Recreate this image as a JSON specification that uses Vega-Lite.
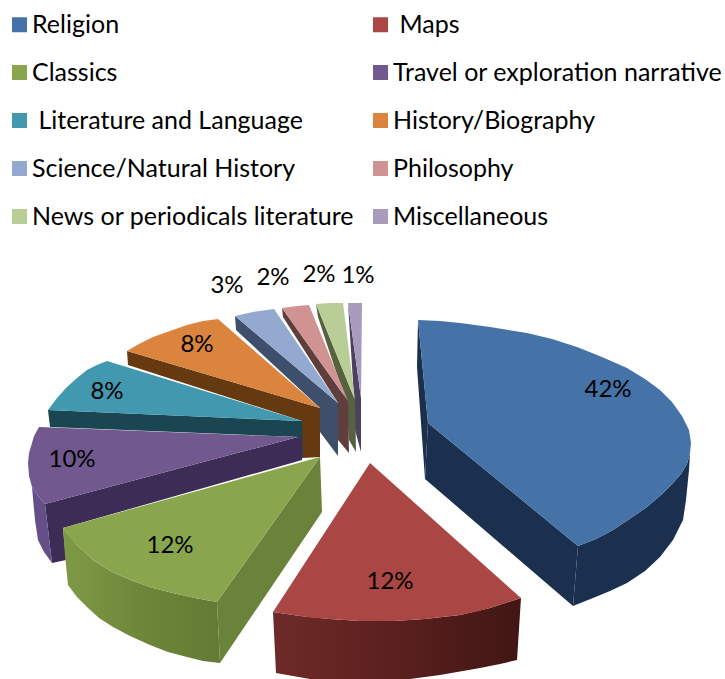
{"$schema":"https://vega.github.io/schema/vega-lite/v6.json","width":725,"height":679,"padding":0,"autosize":{"type":"none"},"background":"white","config":{"view":{"stroke":null}},
"datasets":{"shares":[
{"category":"Religion","share":0.42,"x":608,"y":390},
{"category":"Maps","share":0.12,"x":390,"y":582},
{"category":"Classics","share":0.12,"x":170,"y":546},
{"category":"Travel or exploration narrative","share":0.10,"x":72,"y":460},
{"category":"Literature and Language","share":0.08,"x":107,"y":392},
{"category":"History/Biography","share":0.08,"x":197,"y":345},
{"category":"Science/Natural History","share":0.03,"x":227,"y":286},
{"category":"Philosophy","share":0.02,"x":273,"y":278},
{"category":"News or periodicals literature","share":0.02,"x":319,"y":275},
{"category":"Miscellaneous","share":0.01,"x":358,"y":276}],
"tops":[
{"slice":"Religion","i":0,"x":418,"y":320},{"slice":"Religion","i":1,"x":440,"y":321},{"slice":"Religion","i":2,"x":460,"y":323},{"slice":"Religion","i":3,"x":490,"y":327},{"slice":"Religion","i":4,"x":527,"y":333},{"slice":"Religion","i":5,"x":552,"y":339},{"slice":"Religion","i":6,"x":577,"y":347},{"slice":"Religion","i":7,"x":602,"y":357},{"slice":"Religion","i":8,"x":627,"y":368},{"slice":"Religion","i":9,"x":645,"y":379},{"slice":"Religion","i":10,"x":660,"y":390},{"slice":"Religion","i":11,"x":672,"y":402},{"slice":"Religion","i":12,"x":682,"y":416},{"slice":"Religion","i":13,"x":689,"y":430},{"slice":"Religion","i":14,"x":691,"y":443},{"slice":"Religion","i":15,"x":690,"y":453},{"slice":"Religion","i":16,"x":687,"y":464},{"slice":"Religion","i":17,"x":681,"y":474},{"slice":"Religion","i":18,"x":673,"y":483},{"slice":"Religion","i":19,"x":661,"y":495},{"slice":"Religion","i":20,"x":647,"y":507},{"slice":"Religion","i":21,"x":631,"y":518},{"slice":"Religion","i":22,"x":613,"y":530},{"slice":"Religion","i":23,"x":596,"y":539},{"slice":"Religion","i":24,"x":578,"y":546},{"slice":"Religion","i":25,"x":428,"y":423},
{"slice":"Maps","i":0,"x":370,"y":463},{"slice":"Maps","i":1,"x":521,"y":598},{"slice":"Maps","i":2,"x":506,"y":603},{"slice":"Maps","i":3,"x":490,"y":608},{"slice":"Maps","i":4,"x":475,"y":612},{"slice":"Maps","i":5,"x":460,"y":615},{"slice":"Maps","i":6,"x":442,"y":617},{"slice":"Maps","i":7,"x":425,"y":619},{"slice":"Maps","i":8,"x":409,"y":620},{"slice":"Maps","i":9,"x":393,"y":621},{"slice":"Maps","i":10,"x":360,"y":621},{"slice":"Maps","i":11,"x":345,"y":620},{"slice":"Maps","i":12,"x":330,"y":619},{"slice":"Maps","i":13,"x":315,"y":618},{"slice":"Maps","i":14,"x":300,"y":616},{"slice":"Maps","i":15,"x":273,"y":612},
{"slice":"Classics","i":0,"x":320,"y":457},{"slice":"Classics","i":1,"x":217,"y":602},{"slice":"Classics","i":2,"x":195,"y":598},{"slice":"Classics","i":3,"x":173,"y":593},{"slice":"Classics","i":4,"x":153,"y":588},{"slice":"Classics","i":5,"x":133,"y":581},{"slice":"Classics","i":6,"x":112,"y":572},{"slice":"Classics","i":7,"x":93,"y":560},{"slice":"Classics","i":8,"x":77,"y":545},{"slice":"Classics","i":9,"x":70,"y":537},{"slice":"Classics","i":10,"x":63,"y":528},
{"slice":"Travel or exploration narrative","i":0,"x":298,"y":437},{"slice":"Travel or exploration narrative","i":1,"x":45,"y":504},{"slice":"Travel or exploration narrative","i":2,"x":38,"y":496},{"slice":"Travel or exploration narrative","i":3,"x":32,"y":487},{"slice":"Travel or exploration narrative","i":4,"x":29,"y":476},{"slice":"Travel or exploration narrative","i":5,"x":28,"y":463},{"slice":"Travel or exploration narrative","i":6,"x":29,"y":453},{"slice":"Travel or exploration narrative","i":7,"x":32,"y":443},{"slice":"Travel or exploration narrative","i":8,"x":34,"y":436},{"slice":"Travel or exploration narrative","i":9,"x":39,"y":427},
{"slice":"Literature and Language","i":0,"x":302,"y":421},{"slice":"Literature and Language","i":1,"x":48,"y":410},{"slice":"Literature and Language","i":2,"x":57,"y":398},{"slice":"Literature and Language","i":3,"x":67,"y":387},{"slice":"Literature and Language","i":4,"x":77,"y":378},{"slice":"Literature and Language","i":5,"x":87,"y":370},{"slice":"Literature and Language","i":6,"x":97,"y":365},{"slice":"Literature and Language","i":7,"x":107,"y":361},
{"slice":"History/Biography","i":0,"x":320,"y":408},{"slice":"History/Biography","i":1,"x":127,"y":351},{"slice":"History/Biography","i":2,"x":139,"y":344},{"slice":"History/Biography","i":3,"x":153,"y":337},{"slice":"History/Biography","i":4,"x":170,"y":331},{"slice":"History/Biography","i":5,"x":187,"y":325},{"slice":"History/Biography","i":6,"x":203,"y":321},{"slice":"History/Biography","i":7,"x":218,"y":319},
{"slice":"Science/Natural History","i":0,"x":338,"y":403},{"slice":"Science/Natural History","i":1,"x":235,"y":316},{"slice":"Science/Natural History","i":2,"x":253,"y":312},{"slice":"Science/Natural History","i":3,"x":274,"y":309},
{"slice":"Philosophy","i":0,"x":348,"y":401},{"slice":"Philosophy","i":1,"x":282,"y":308},{"slice":"Philosophy","i":2,"x":297,"y":306},{"slice":"Philosophy","i":3,"x":309,"y":305},
{"slice":"News or periodicals literature","i":0,"x":355,"y":400},{"slice":"News or periodicals literature","i":1,"x":316,"y":304},{"slice":"News or periodicals literature","i":2,"x":330,"y":303},{"slice":"News or periodicals literature","i":3,"x":343,"y":303},
{"slice":"Miscellaneous","i":0,"x":361,"y":398},{"slice":"Miscellaneous","i":1,"x":348,"y":303},{"slice":"Miscellaneous","i":2,"x":355,"y":303},{"slice":"Miscellaneous","i":3,"x":362,"y":303}],
"sides":[
{"face":"misc","i":0,"x":348,"y":303},{"face":"misc","i":1,"x":361,"y":398},{"face":"misc","i":2,"x":361,"y":452},{"face":"misc","i":3,"x":355,"y":430},{"face":"misc","i":4,"x":354,"y":398},
{"face":"news","i":0,"x":316,"y":304},{"face":"news","i":1,"x":355,"y":400},{"face":"news","i":2,"x":356,"y":452},{"face":"news","i":3,"x":349,"y":440},{"face":"news","i":4,"x":346,"y":402},{"face":"news","i":5,"x":318,"y":317},
{"face":"phil","i":0,"x":282,"y":308},{"face":"phil","i":1,"x":348,"y":401},{"face":"phil","i":2,"x":349,"y":453},{"face":"phil","i":3,"x":338,"y":440},{"face":"phil","i":4,"x":338,"y":403},{"face":"phil","i":5,"x":283,"y":317},
{"face":"sci","i":0,"x":235,"y":316},{"face":"sci","i":1,"x":338,"y":403},{"face":"sci","i":2,"x":338,"y":456},{"face":"sci","i":3,"x":320,"y":432},{"face":"sci","i":4,"x":320,"y":408},{"face":"sci","i":5,"x":236,"y":330},
{"face":"hist","i":0,"x":127,"y":351},{"face":"hist","i":1,"x":320,"y":408},{"face":"hist","i":2,"x":320,"y":457},{"face":"hist","i":3,"x":302,"y":458},{"face":"hist","i":4,"x":302,"y":421},{"face":"hist","i":5,"x":128,"y":365},
{"face":"lit","i":0,"x":48,"y":410},{"face":"lit","i":1,"x":302,"y":421},{"face":"lit","i":2,"x":303,"y":459},{"face":"lit","i":3,"x":298,"y":437},{"face":"lit","i":4,"x":50,"y":427},
{"face":"travel","i":0,"x":45,"y":504},{"face":"travel","i":1,"x":298,"y":437},{"face":"travel","i":2,"x":302,"y":437},{"face":"travel","i":3,"x":302,"y":460},{"face":"travel","i":4,"x":63,"y":528},{"face":"travel","i":5,"x":66,"y":560},{"face":"travel","i":6,"x":52,"y":563},
{"face":"travelEnd","i":0,"x":32,"y":487},{"face":"travelEnd","i":1,"x":38,"y":496},{"face":"travelEnd","i":2,"x":45,"y":504},{"face":"travelEnd","i":3,"x":52,"y":563},{"face":"travelEnd","i":4,"x":44,"y":552},{"face":"travelEnd","i":5,"x":38,"y":540},{"face":"travelEnd","i":6,"x":35,"y":520},
{"face":"classicsCut","i":0,"x":320,"y":457},{"face":"classicsCut","i":1,"x":217,"y":602},{"face":"classicsCut","i":2,"x":220,"y":663},{"face":"classicsCut","i":3,"x":322,"y":512},
{"face":"religionCut","i":0,"x":428,"y":423},{"face":"religionCut","i":1,"x":578,"y":546},{"face":"religionCut","i":2,"x":573,"y":606},{"face":"religionCut","i":3,"x":425,"y":479},
{"face":"religionEnd","i":0,"x":418,"y":320},{"face":"religionEnd","i":1,"x":428,"y":423},{"face":"religionEnd","i":2,"x":425,"y":479},{"face":"religionEnd","i":3,"x":417,"y":367},
{"face":"religionOuter","i":0,"x":578,"y":546},{"face":"religionOuter","i":1,"x":596,"y":539},{"face":"religionOuter","i":2,"x":613,"y":530},{"face":"religionOuter","i":3,"x":631,"y":518},{"face":"religionOuter","i":4,"x":647,"y":507},{"face":"religionOuter","i":5,"x":661,"y":495},{"face":"religionOuter","i":6,"x":673,"y":483},{"face":"religionOuter","i":7,"x":681,"y":474},{"face":"religionOuter","i":8,"x":687,"y":464},{"face":"religionOuter","i":9,"x":690,"y":453},{"face":"religionOuter","i":10,"x":689,"y":470},{"face":"religionOuter","i":11,"x":686,"y":500},{"face":"religionOuter","i":12,"x":683,"y":520},{"face":"religionOuter","i":13,"x":673,"y":540},{"face":"religionOuter","i":14,"x":660,"y":557},{"face":"religionOuter","i":15,"x":645,"y":571},{"face":"religionOuter","i":16,"x":627,"y":583},{"face":"religionOuter","i":17,"x":610,"y":591},{"face":"religionOuter","i":18,"x":593,"y":598},{"face":"religionOuter","i":19,"x":573,"y":606}],
"mapsOuter":[
{"i":0,"x":273,"y":612},{"i":1,"x":300,"y":616},{"i":2,"x":330,"y":619},{"i":3,"x":360,"y":621},{"i":4,"x":393,"y":621},{"i":5,"x":425,"y":619},{"i":6,"x":460,"y":615},{"i":7,"x":490,"y":608},{"i":8,"x":521,"y":598},{"i":9,"x":517,"y":660},{"i":10,"x":500,"y":664},{"i":11,"x":480,"y":668},{"i":12,"x":440,"y":675},{"i":13,"x":410,"y":679},{"i":14,"x":310,"y":679},{"i":15,"x":276,"y":673}],
"classicsOuter":[
{"i":0,"x":63,"y":528},{"i":1,"x":77,"y":545},{"i":2,"x":93,"y":560},{"i":3,"x":112,"y":572},{"i":4,"x":133,"y":581},{"i":5,"x":153,"y":588},{"i":6,"x":173,"y":593},{"i":7,"x":195,"y":598},{"i":8,"x":217,"y":602},{"i":9,"x":220,"y":663},{"i":10,"x":203,"y":661},{"i":11,"x":187,"y":657},{"i":12,"x":168,"y":652},{"i":13,"x":150,"y":645},{"i":14,"x":130,"y":636},{"i":15,"x":113,"y":627},{"i":16,"x":99,"y":618},{"i":17,"x":87,"y":607},{"i":18,"x":77,"y":597},{"i":19,"x":68,"y":585},{"i":20,"x":65,"y":555}]},
"encoding":{"x":{"field":"x","type":"quantitative","scale":{"domain":[0,725],"nice":false,"zero":false},"axis":null},"y":{"field":"y","type":"quantitative","scale":{"domain":[679,0],"nice":false,"zero":false},"axis":null}},
"layer":[
{"data":{"name":"sides"},"mark":{"type":"line","filled":true,"strokeWidth":0},"encoding":{"order":{"field":"i","type":"quantitative"},"detail":{"field":"face"},"color":{"field":"face","type":"nominal","legend":null,"scale":{"domain":["misc","news","phil","sci","hist","lit","travel","travelEnd","classicsCut","religionCut","religionEnd","religionOuter"],"range":["#4d4162","#56623f","#5f3e3e","#3e4f6b","#653a10","#1a4651","#3d2c55","#654f88","#6a8239","#1b304f","#1b304f","#1b304f"]}}}},
{"data":{"name":"mapsOuter"},"mark":{"type":"line","filled":true,"strokeWidth":0,"fill":{"gradient":"linear","x1":0,"y1":0,"x2":1,"y2":0,"stops":[{"offset":0,"color":"#6e2a28"},{"offset":0.5,"color":"#5a201e"},{"offset":1,"color":"#401614"}]}},"encoding":{"order":{"field":"i","type":"quantitative"}}},
{"data":{"name":"classicsOuter"},"mark":{"type":"line","filled":true,"strokeWidth":0,"fill":{"gradient":"linear","x1":0,"y1":0,"x2":1,"y2":0,"stops":[{"offset":0,"color":"#7f9a46"},{"offset":0.5,"color":"#6e8639"},{"offset":1,"color":"#637a33"}]}},"encoding":{"order":{"field":"i","type":"quantitative"}}},
{"data":{"name":"tops"},"mark":{"type":"line","filled":true,"strokeWidth":0},"encoding":{"order":{"field":"i","type":"quantitative"},"detail":{"field":"slice"},"color":{"field":"slice","type":"nominal","scale":{"domain":["Religion","Maps","Classics","Travel or exploration narrative","Literature and Language","History/Biography","Science/Natural History","Philosophy","News or periodicals literature","Miscellaneous"],"range":["#4572a7","#aa4643","#89a54e","#71588f","#4198af","#db843d","#93a9cf","#d19392","#b9cd96","#a99bbd"]},"legend":{"title":null,"orient":"none","legendX":7,"legendY":12,"padding":0,"direction":"horizontal","columns":2,"symbolType":"square","symbolSize":225,"symbolStrokeWidth":0,"symbolOpacity":1,"labelFont":"Lato","labelFontSize":25,"labelColor":"#000000","labelLimit":400,"labelOffset":0,"rowPadding":22,"columnPadding":13,"gridAlign":"each","labelExpr":"(datum.value === 'Maps' || datum.value === 'Literature and Language' ? '\u200b\u00a0' : '') + datum.label"}}}},
{"data":{"name":"shares"},"mark":{"type":"text","font":"Lato","fontSize":24,"color":"#000000"},"encoding":{"text":{"field":"share","type":"quantitative","format":".0%"}}}
],
"resolve":{"scale":{"color":"independent"}}}
